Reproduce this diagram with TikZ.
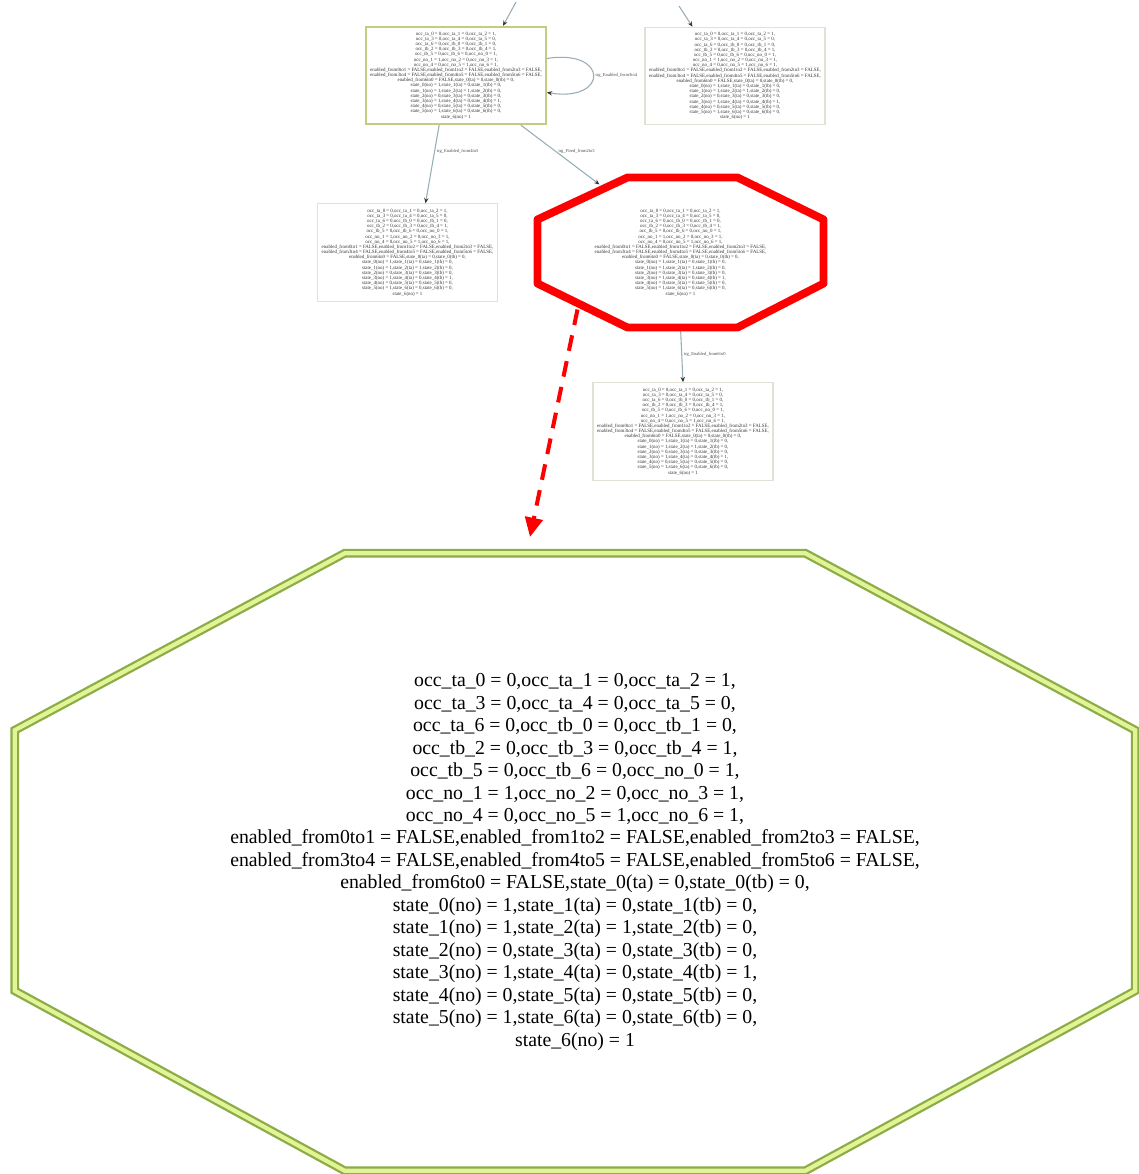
\documentclass[tikz,border=0pt]{standalone}
\usepackage{fontspec}
\setmainfont{Liberation Serif}
\usepackage{tikz}
\usetikzlibrary{positioning}
\usetikzlibrary{calc}
\usetikzlibrary{arrows.meta}

\definecolor{edgegray}{RGB}{150,172,182}
\definecolor{boxolive}{RGB}{196,204,128}
\definecolor{boxpale}{RGB}{226,226,212}
\definecolor{zoomdark}{RGB}{140,172,72}
\definecolor{zoomlight}{RGB}{226,244,150}

\newcommand{\statelist}{%
occ\_ta\_0 = 0,occ\_ta\_1 = 0,occ\_ta\_2 = 1,\\
occ\_ta\_3 = 0,occ\_ta\_4 = 0,occ\_ta\_5 = 0,\\
occ\_ta\_6 = 0,occ\_tb\_0 = 0,occ\_tb\_1 = 0,\\
occ\_tb\_2 = 0,occ\_tb\_3 = 0,occ\_tb\_4 = 1,\\
occ\_tb\_5 = 0,occ\_tb\_6 = 0,occ\_no\_0 = 1,\\
occ\_no\_1 = 1,occ\_no\_2 = 0,occ\_no\_3 = 1,\\
occ\_no\_4 = 0,occ\_no\_5 = 1,occ\_no\_6 = 1,\\
enabled\_from0to1 = FALSE,enabled\_from1to2 = FALSE,enabled\_from2to3 = FALSE,\\
enabled\_from3to4 = FALSE,enabled\_from4to5 = FALSE,enabled\_from5to6 = FALSE,\\
enabled\_from6to0 = FALSE,state\_0(ta) = 0,state\_0(tb) = 0,\\
state\_0(no) = 1,state\_1(ta) = 0,state\_1(tb) = 0,\\
state\_1(no) = 1,state\_2(ta) = 1,state\_2(tb) = 0,\\
state\_2(no) = 0,state\_3(ta) = 0,state\_3(tb) = 0,\\
state\_3(no) = 1,state\_4(ta) = 0,state\_4(tb) = 1,\\
state\_4(no) = 0,state\_5(ta) = 0,state\_5(tb) = 0,\\
state\_5(no) = 1,state\_6(ta) = 0,state\_6(tb) = 0,\\
state\_6(no) = 1}

\begin{document}
\begin{tikzpicture}[x=0.02cm, y=-0.02cm, >=Stealth,
  state box/.style={draw=boxpale, line width=0.6pt, fill=white, align=center,
    minimum width=3.6cm, minimum height=1.95cm, inner sep=0pt,
    text=black!80, font=\fontsize{2.8}{2.95}\selectfont},
  edge/.style={draw=edgegray, line width=0.6pt,
    -{Stealth[length=3pt, width=2.5pt, black!80]}},
  edge label/.style={font=\fontsize{2.6}{3}\selectfont, text=black!70, inner sep=1pt}]%

\useasboundingbox (0,0) rectangle (1139,1174);

% graph states
\node [state box, draw=boxolive, line width=1pt] (init) at (456,75.5) {\statelist};
\foreach \n/\x/\y in {right/735/76, left/407.5/252.5, below/683/431.5}
  \node [state box] (\n) at (\x,\y) {\statelist};

\node [state box, draw=none, fill=none, minimum width=5.7cm, minimum height=2.98cm]
  (focus) at (680.5,252.5) {\statelist};

% transitions
\coordinate (into-init) at (516,2);
\coordinate (into-right) at (679,6);
\draw [edge] (into-init) -- ($(init.north)+(47,0)$);
\draw [edge] (into-right) -- ($(right.north west)+(48,0)$);

\draw [edge] ($(init.east)+(0,-17)$) .. controls +(62,-10) and +(62,10) .. ($(init.east)+(0,17)$)
  node [edge label, pos=0.5, right] {trg\_Enabled\_from3to4};

\draw [edge] ($(init.south west)+(74,0)$) -- ($(left.north)+(18,0)$)
  node [edge label, pos=0.33, right] {trg\_Enabled\_from4to5};

\draw [edge] ($(init.south east)+(-26,0)$) -- ($(focus.north west)+(62,7)$)
  node [edge label, pos=0.45, right] {trg\_Fired\_from2to3};

\draw [edge] (focus.south) -- (below.north)
  node [edge label, midway, right] {trg\_Enabled\_from6to0};

% highlighted state
\draw [red, line width=4.5pt, line join=round]
  ($(focus.north west)+(90,0)$) -- ($(focus.north east)+(-86,0)$)
  -- ($(focus.north east)+(0,42)$) -- ($(focus.south east)+(0,-44)$)
  -- ($(focus.south east)+(-86,0)$) -- ($(focus.south west)+(90,0)$)
  -- ($(focus.south west)+(0,-44)$) -- ($(focus.north west)+(0,42)$) -- cycle;

% zoomed view
\node [align=center, minimum width=22.4cm, minimum height=12.34cm, inner sep=0pt,
  font=\fontsize{11.25}{12.8}\selectfont] (zoom) at (575,862) {\statelist};

\draw [draw=zoomdark, double=zoomlight, line width=1.3pt, double distance=2.4pt]
  ($(zoom.north west)+(330,0)$) -- ($(zoom.north east)+(-330,0)$)
  -- ($(zoom.north east)+(0,177)$) -- ($(zoom.south east)+(0,-180)$)
  -- ($(zoom.south east)+(-330,0)$) -- ($(zoom.south west)+(330,0)$)
  -- ($(zoom.south west)+(0,-180)$) -- ($(zoom.north west)+(0,177)$) -- cycle;

\coordinate (dash-from) at ($(focus.south west)+(40,-18)$);
\coordinate (dash-to) at (530,537);
\draw [red, line width=2.3pt, dash pattern=on 9pt off 6pt,
  -{Triangle[length=11pt, width=10pt]}] (dash-from) -- (dash-to);

\end{tikzpicture}
\end{document}
